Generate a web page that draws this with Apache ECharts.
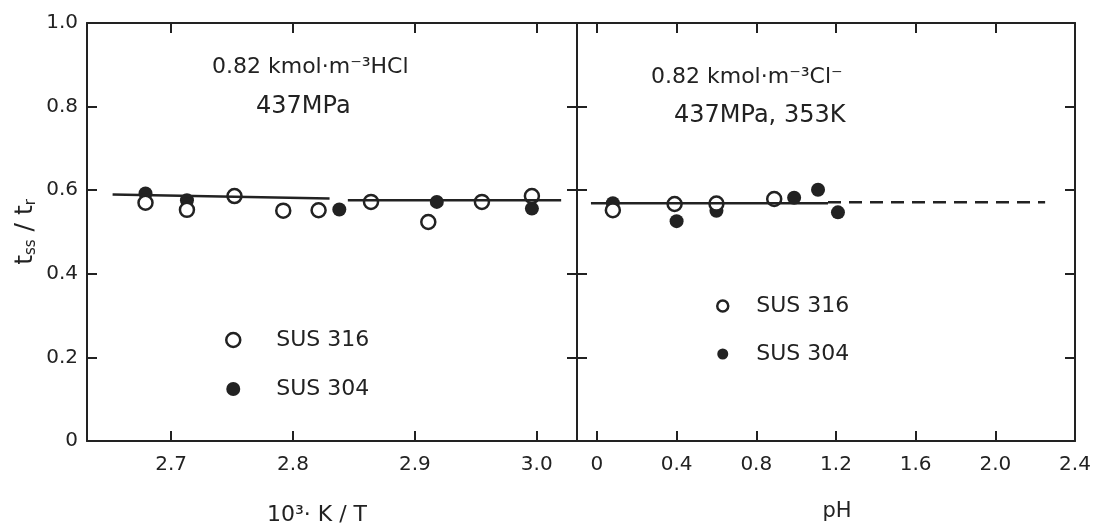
<!DOCTYPE html>
<html>
<head>
<meta charset="utf-8">
<script src="https://cdn.jsdelivr.net/npm/echarts@6/dist/echarts.min.js"></script>
<style>
html,body{margin:0;padding:0;background:#fff}
#main{width:1104px;height:528px}
</style>
</head>
<body>
<div id="main"></div>
<script>
// left panel: 10^3 K/T
var leftTicks = [2.7, 2.8, 2.9, 3.0]
var left316X = [2.679, 2.713, 2.752, 2.792, 2.821, 2.864, 2.911, 2.955, 2.996]
var left316Y = [0.570, 0.553, 0.586, 0.551, 0.552, 0.572, 0.524, 0.572, 0.586]
var left304X = [2.679, 2.713, 2.838, 2.918, 2.996]
var left304Y = [0.592, 0.576, 0.554, 0.572, 0.556]
var leftFitAX = [2.652, 2.830]
var leftFitAY = [0.590, 0.580]
var leftFitBX = [2.845, 3.020]
var leftFitBY = [0.576, 0.576]

// right panel: pH
var rightTicks = [0, 0.4, 0.8, 1.2, 1.6, 2.0, 2.4]
var right316X = [0.08, 0.39, 0.60, 0.89]
var right316Y = [0.552, 0.567, 0.568, 0.579]
var right304X = [0.08, 0.40, 0.60, 0.99, 1.11, 1.21]
var right304Y = [0.569, 0.526, 0.551, 0.582, 0.601, 0.547]
var rightSolidX = [-0.03, 1.16]
var rightSolidY = [0.569, 0.569]
var rightDashX = [1.16, 2.25]
var rightDashY = [0.571, 0.571]

function zip(xs, ys){
	return xs.map(function(x, i){ return [x, ys[i]] })
}

var ink = '#222'
var font = 'DejaVu Sans'

function fmt(v){
	return v === 0 ? '0' : v.toFixed(1)
}

function xAxisOf(grid, min, max, ticks, pos, showLabel){
	return {
		type: 'value', gridIndex: grid, min: min, max: max, position: pos,
		axisLine: { show: true, onZero: false, lineStyle: { color: ink, width: 2 } },
		axisTick: { show: true, inside: true, length: 10, customValues: ticks, lineStyle: { color: ink, width: 2 } },
		axisLabel: { show: showLabel, customValues: ticks, formatter: fmt, color: ink, fontSize: 20, fontFamily: font, margin: 14 },
		splitLine: { show: false }
	}
}

function yAxisOf(grid, pos, showLabel){
	return {
		type: 'value', gridIndex: grid, min: 0, max: 1, interval: 0.2, position: pos,
		axisLine: { show: true, onZero: false, lineStyle: { color: ink, width: 2 } },
		axisTick: { show: true, inside: true, length: 10, lineStyle: { color: ink, width: 2 } },
		axisLabel: { show: showLabel, formatter: fmt, color: ink, fontSize: 20, fontFamily: font, margin: 9 },
		splitLine: { show: false }
	}
}

function fitLine(name, xs, ys, xi, yi, dashed){
	return {
		name: name, type: 'line', xAxisIndex: xi, yAxisIndex: yi,
		data: zip(xs, ys), symbol: 'none', silent: true,
		lineStyle: { color: ink, width: 2.5, type: dashed ? [13, 8] : 'solid' }
	}
}

function dots(name, xs, ys, xi, yi, open){
	return {
		name: name, type: 'scatter', xAxisIndex: xi, yAxisIndex: yi,
		data: zip(xs, ys), symbol: 'circle', symbolSize: 14,
		itemStyle: open ? { color: '#fff', borderColor: ink, borderWidth: 2.5, opacity: 1 }
		                : { color: ink, borderColor: ink, borderWidth: 0, opacity: 1 }
	}
}

function legendOf(left, top, size, pad, gap){
	return {
		orient: 'vertical', left: left, top: top, padding: 0,
		itemWidth: size, itemHeight: size, itemGap: gap,
		textStyle: { color: ink, fontSize: 22, fontFamily: font, lineHeight: 24, padding: [0, 0, 0, pad] },
		data: [
			{ name: 'SUS 316', icon: 'circle', itemStyle: { color: '#fff', borderColor: ink, borderWidth: 2.5 } },
			{ name: 'SUS 304', icon: 'circle', itemStyle: { color: ink, borderWidth: 0 } }
		],
		selectedMode: false
	}
}

function label(text, x, y, size, align){
	return {
		type: 'text', x: x, y: y, silent: true,
		style: { text: text, fill: ink, fontSize: size, fontFamily: font, align: align || 'left', verticalAlign: 'middle' }
	}
}

var chart = echarts.init(document.getElementById('main'))

var option = {
	backgroundColor: '#fff',
	animation: false,
	grid: [
		{ left: 87, top: 23, width: 490, height: 418 },
		{ left: 577, top: 23, width: 498, height: 418 }
	],
	xAxis: [
		xAxisOf(0, 2.631, 3.033, leftTicks, 'bottom', true),
		xAxisOf(0, 2.631, 3.033, leftTicks, 'top', false),
		xAxisOf(1, -0.1, 2.4, rightTicks, 'bottom', true),
		xAxisOf(1, -0.1, 2.4, rightTicks, 'top', false)
	],
	yAxis: [
		Object.assign(yAxisOf(0, 'left', true), {
			name: '{t|t}{s|ss}{t| / t}{s|r}',
			nameLocation: 'middle', nameGap: 48, nameRotate: 90,
			nameTextStyle: { color: ink, fontFamily: font, rich: {
				t: { fontSize: 25, fontFamily: font, color: ink },
				s: { fontSize: 15, fontFamily: font, color: ink, padding: [12, 0, 0, 0] }
			} }
		}),
		yAxisOf(0, 'right', false),
		yAxisOf(1, 'left', false),
		yAxisOf(1, 'right', false)
	],
	legend: [
		legendOf(225, 328, 14, 31, 25),
		legendOf(716, 294, 11, 23, 24)
	],
	graphic: [
		label('0.82 kmol·m⁻³HCl', 212, 67, 22),
		label('437MPa', 256, 107, 24),
		label('0.82 kmol·m⁻³Cl⁻', 651, 77, 22),
		label('437MPa, 353K', 674, 116, 24),
		label('10³· K / T', 317, 515, 22, 'center'),
		label('pH', 837, 512, 21, 'center')
	],
	series: [
		fitLine('fitA', leftFitAX, leftFitAY, 0, 0, false),
		fitLine('fitB', leftFitBX, leftFitBY, 0, 0, false),
		dots('SUS 304', left304X, left304Y, 0, 0, false),
		dots('SUS 316', left316X, left316Y, 0, 0, true),
		fitLine('fitC', rightSolidX, rightSolidY, 2, 2, false),
		fitLine('fitD', rightDashX, rightDashY, 2, 2, true),
		dots('SUS 304', right304X, right304Y, 2, 2, false),
		dots('SUS 316', right316X, right316Y, 2, 2, true)
	]
}

chart.setOption(option)
</script>
</body>
</html>
